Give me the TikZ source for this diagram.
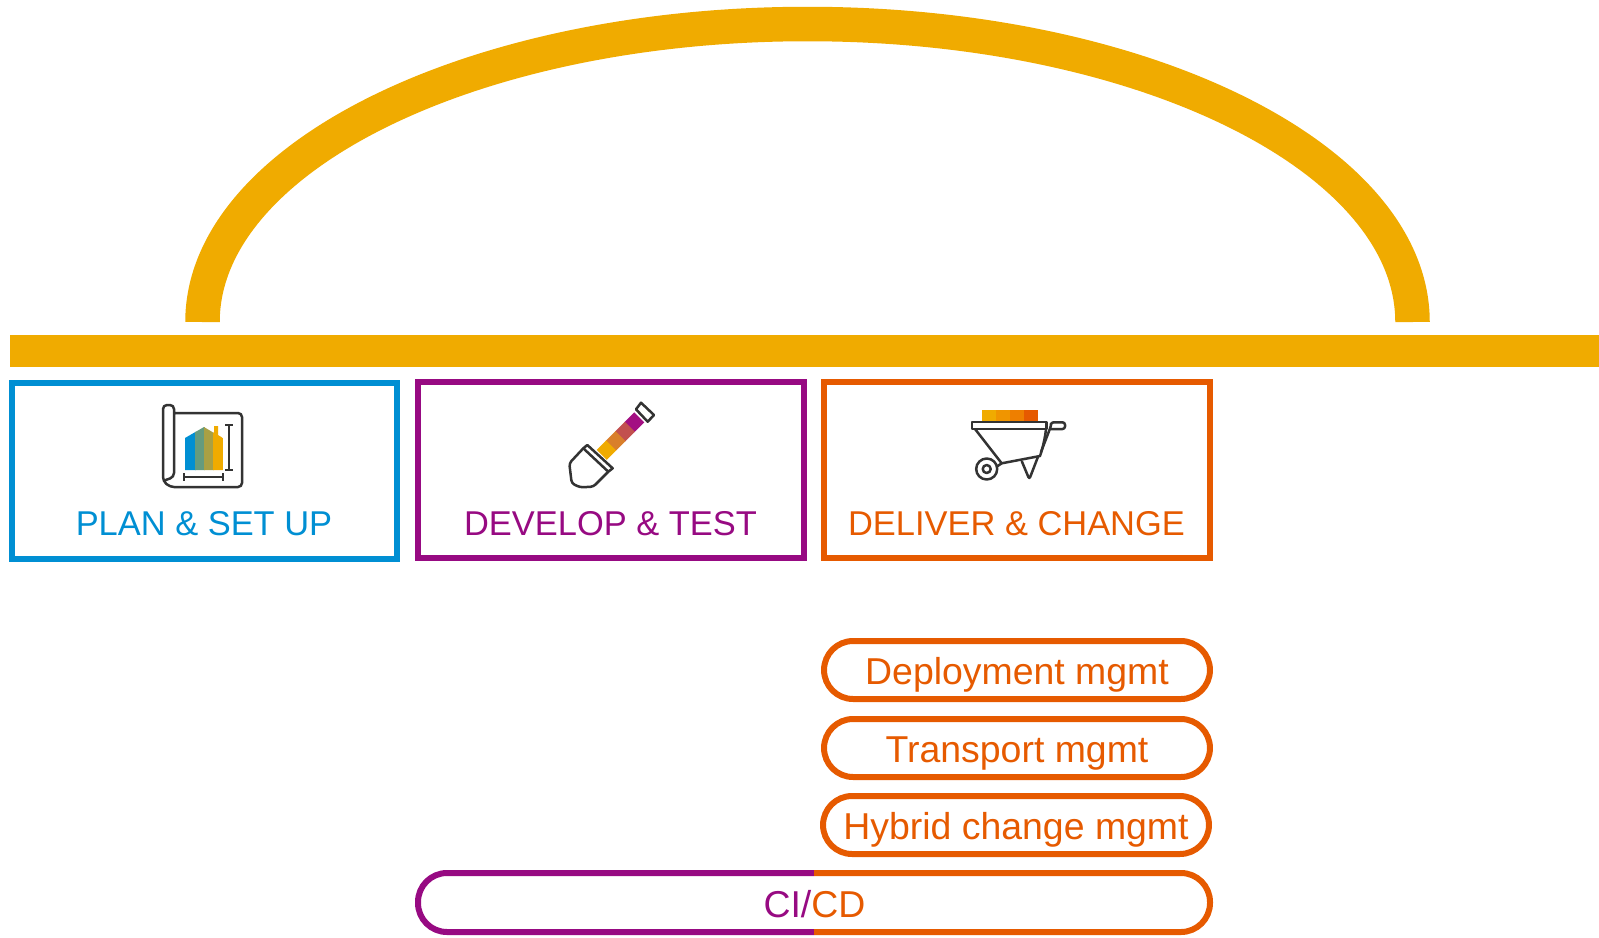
\documentclass[tikz,border=0pt]{standalone}
\usepackage{fontspec}
\setmainfont{Liberation Sans}
\definecolor{sapamber}{HTML}{F0AB00}
\definecolor{sapblue}{HTML}{008FD3}
\definecolor{sappurple}{HTML}{970A82}
\definecolor{saporange}{HTML}{E65A00}
\definecolor{icongrey}{HTML}{333333}
\tikzset{
    stagebox/.style={draw, line width=0.12cm, minimum width=7.72cm, minimum height=3.52cm, inner sep=0pt},
    stagelabel/.style={anchor=base, inner sep=0pt, font=\fontsize{19.6}{24}\selectfont},
    pillbox/.style={draw=saporange, text=saporange, line width=0.12cm, rounded corners=0.58cm, minimum width=7.72cm, minimum height=1.16cm, inner sep=0pt, text height=0.58cm, text depth=0pt, font=\fontsize{21.3}{25}\selectfont},
    iconline/.style={draw=icongrey, line width=0.05cm, line join=round},
}
\begin{document}
\begin{tikzpicture}[x=0.02cm, y=-0.02cm]
    \useasboundingbox (0,0) rectangle (1599,937);
    \draw[sapamber, line width=0.69cm] (202.5,322) arc (180:360:605 and 298);
    \fill[sapamber] (10,335) rectangle (1599,367);

    \node[stagebox, draw=sapblue, minimum width=7.7cm] (plan) at (204.3,471) {};
    \node[stagebox, draw=sappurple] (develop) at (611,470) {};
    \node[stagebox, draw=saporange] (deliver) at (1017,470) {};
    \node[stagelabel, text=sapblue] (planlabel) at (204,535.5) {PLAN \& SET UP};
    \node[stagelabel, text=sappurple] (developlabel) at (610.5,535.5) {DEVELOP \& TEST};
    \node[stagelabel, text=saporange] (deliverlabel) at (1016.5,535.5) {DELIVER \& CHANGE};

    \begin{scope}
        \clip (185,438) -- (204,427) -- (214,433) -- (214,426) -- (218,426) -- (218,435) -- (223,438) -- (223,470) -- (185,470) -- cycle;
        \foreach \xa/\xb/\tint in {185/196/008FD3, 195/205/659B7E, 204/214/A9A044, 213/223/F0AB00} {
            \definecolor{tint}{HTML}{\tint}
            \fill[tint] (\xa,420) rectangle (\xb,475);
        }
    \end{scope}
    \draw[iconline, rounded corners=0.08cm] (174,413) -- (242,413) -- (242,487) -- (170,487) -- (163,481) -- (163,405) -- (174,405) -- (174,477) -- (163,481);
    \draw[iconline] (229,425) -- (229,470);
    \draw[iconline] (225,425) -- (233,425);
    \draw[iconline] (225,470) -- (233,470);
    \draw[iconline] (184,477) -- (223,477);
    \draw[iconline] (184,473) -- (184,481);
    \draw[iconline] (223,473) -- (223,481);

    \foreach \xa/\ya/\xb/\yb/\tint in {639.3/417.3/629.4/427.2/A30F82, 629.9/426.7/620/436.6/C2504F, 620.5/436.1/610.6/446/D97F2B, 611.1/445.5/601.7/454.9/F0AB00} {
        \definecolor{tint}{HTML}{\tint}
        \draw[tint, line width=0.28cm] (\xa,\ya) -- (\xb,\yb);
    }
    \draw[iconline] (641,402.7) -- (654,415) -- (647.7,421.7) -- (636,409.3) -- cycle;
    \draw[iconline, fill=white] (587.3,445) -- (612.7,468.3) -- (608.3,471.7) -- (583.3,448.3) -- cycle;
    \draw[iconline, rounded corners=0.06cm] (583.3,448.3) -- (569.3,463.3) -- (571.7,483.3) -- (580,487.3) -- (593.3,486.7) -- (608.3,471.7);

    \foreach \xa/\xb/\tint in {982/997/F0AB00, 996/1011/F09500, 1010/1025/EE7F00, 1024/1038/E65A00} {
        \definecolor{tint}{HTML}{\tint}
        \fill[tint] (\xa,410) rectangle (\xb,422);
    }
    \draw[iconline] (972,422) rectangle (1046.5,429);
    \draw[iconline] (975,429) -- (1001.7,463.3) -- (1040,456) .. controls (1043,447) and (1045,438) .. (1046,429);
    \draw[iconline, rounded corners=0.05cm] (1041,452) -- (1051,426) -- (1051,422.3) -- (1065,422.3) -- (1065,429) -- (1051,429);
    \draw[iconline, rounded corners=0.05cm] (1021.7,461) -- (1029.3,479.3) -- (1038,456.7);
    \draw[iconline] (986.7,469) circle (0.21cm);
    \draw[iconline] (986.7,469) circle (0.08cm);
    \draw[iconline] (996.7,466.7) -- (1001.7,463.3);

    \node[pillbox] (deployment) at (1017,670) {Deployment mgmt};
    \node[pillbox] (transport) at (1017,748) {Transport mgmt};
    \node[pillbox] (hybrid) at (1016,825) {Hybrid change mgmt};

    \draw[sappurple, line width=0.12cm, rounded corners=0.58cm] (814,873) -- (418,873) -- (418,932) -- (814,932);
    \draw[saporange, line width=0.12cm, rounded corners=0.58cm] (814,873) -- (1210,873) -- (1210,932) -- (814,932);
    \node[inner sep=0pt, text height=0.58cm, text depth=0pt, font=\fontsize{21.3}{25}\selectfont] (cicd) at (814.5,902.5) {\textcolor{sappurple}{CI/}\textcolor{saporange}{CD}};
\end{tikzpicture}
\end{document}
